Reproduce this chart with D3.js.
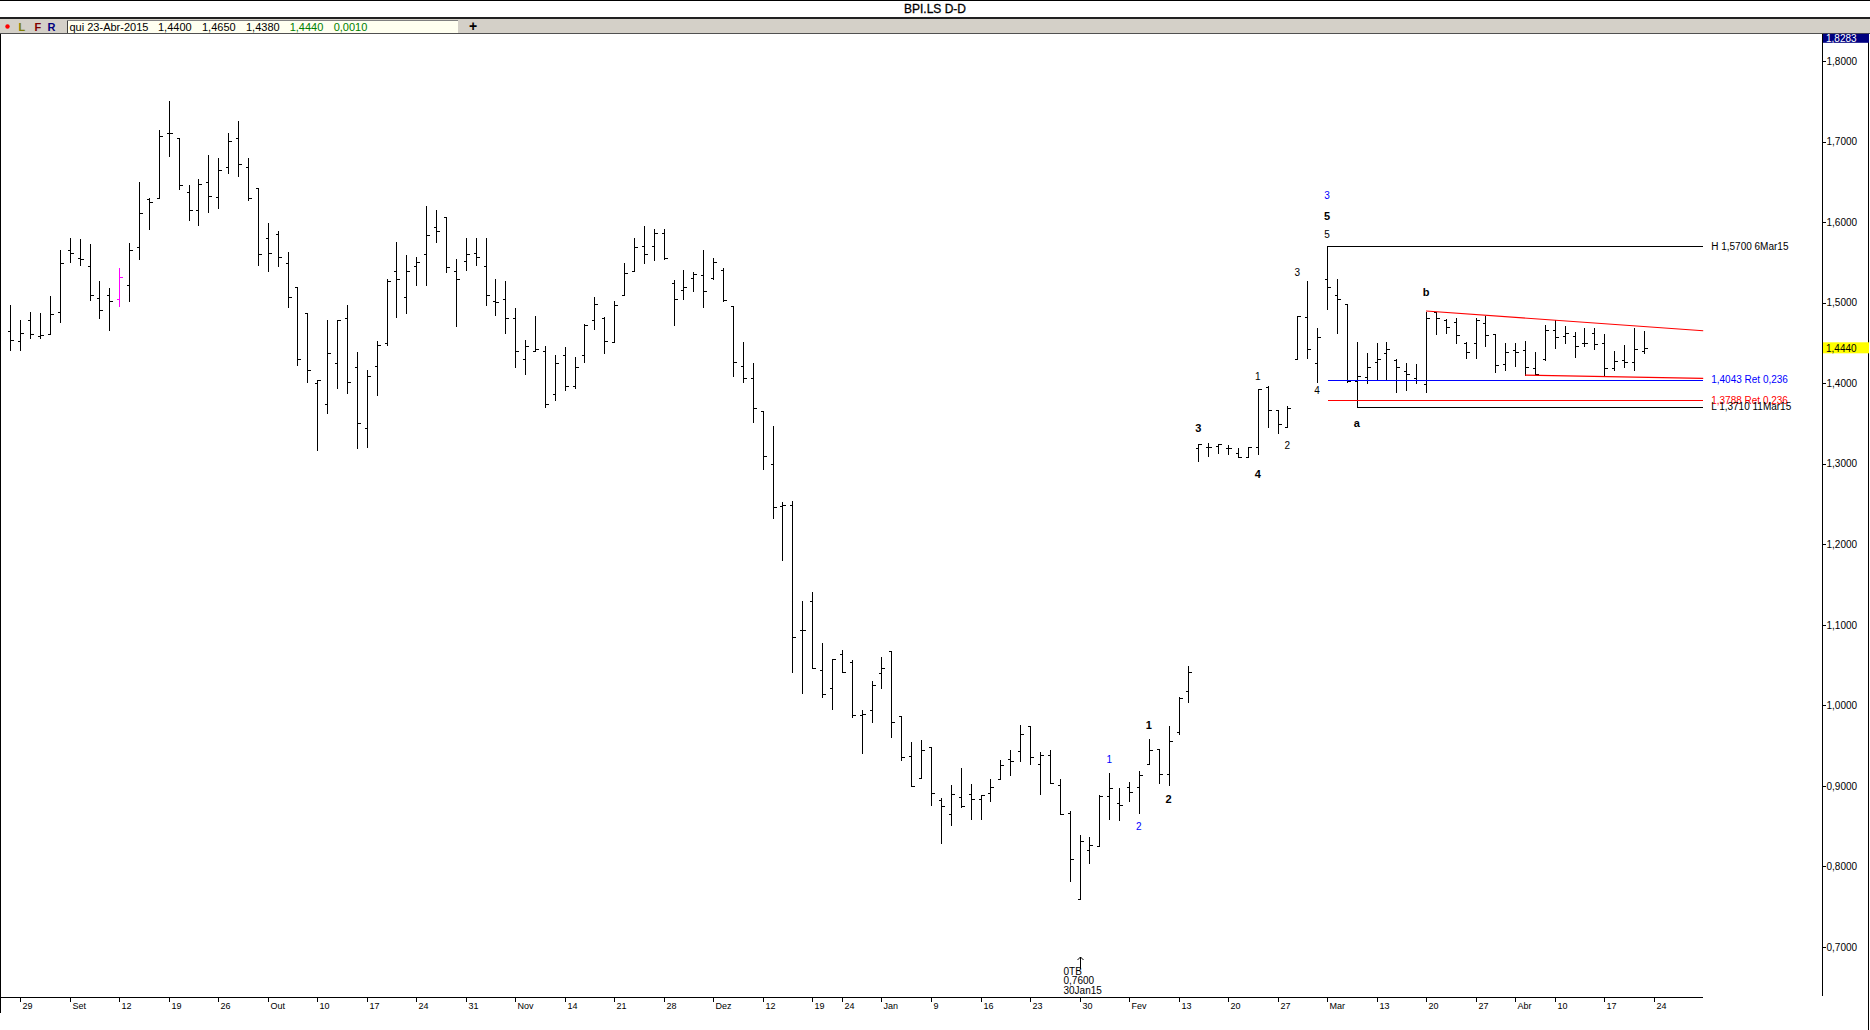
<!DOCTYPE html>
<html><head><meta charset="utf-8">
<script src="https://cdn.jsdelivr.net/npm/d3@7"></script>
<style>
body{margin:0;background:#fff;overflow:hidden;}
svg{display:block;font-family:"Liberation Sans",Arial,sans-serif;}
</style></head><body>
<svg id="c" width="1870" height="1030"></svg>
<script>
// ---------------- DATA ----------------
const title = "BPI.LS D-D";
const headerDate = "qui 23-Abr-2015";
const dates = [
"2014-08-28","2014-08-29",
"2014-09-01","2014-09-02","2014-09-03","2014-09-04","2014-09-05",
"2014-09-08","2014-09-09","2014-09-10","2014-09-11","2014-09-12",
"2014-09-15","2014-09-16","2014-09-17","2014-09-18","2014-09-19",
"2014-09-22","2014-09-23","2014-09-24","2014-09-25","2014-09-26",
"2014-09-29","2014-09-30","2014-10-01","2014-10-02","2014-10-03",
"2014-10-06","2014-10-07","2014-10-08","2014-10-09","2014-10-10",
"2014-10-13","2014-10-14","2014-10-15","2014-10-16","2014-10-17",
"2014-10-20","2014-10-21","2014-10-22","2014-10-23","2014-10-24",
"2014-10-27","2014-10-28","2014-10-29","2014-10-30","2014-10-31",
"2014-11-03","2014-11-04","2014-11-05","2014-11-06","2014-11-07",
"2014-11-10","2014-11-11","2014-11-12","2014-11-13","2014-11-14",
"2014-11-17","2014-11-18","2014-11-19","2014-11-20","2014-11-21",
"2014-11-24","2014-11-25","2014-11-26","2014-11-27","2014-11-28",
"2014-12-01","2014-12-02","2014-12-03","2014-12-04","2014-12-05",
"2014-12-08","2014-12-09","2014-12-10","2014-12-11","2014-12-12",
"2014-12-15","2014-12-16","2014-12-17","2014-12-18","2014-12-19",
"2014-12-22","2014-12-23","2014-12-24",
"2014-12-29","2014-12-30","2014-12-31","2015-01-02",
"2015-01-05","2015-01-06","2015-01-07","2015-01-08","2015-01-09",
"2015-01-12","2015-01-13","2015-01-14","2015-01-15","2015-01-16",
"2015-01-19","2015-01-20","2015-01-21","2015-01-22","2015-01-23",
"2015-01-26","2015-01-27","2015-01-28","2015-01-29","2015-01-30",
"2015-02-02","2015-02-03","2015-02-04","2015-02-05","2015-02-06",
"2015-02-09","2015-02-10","2015-02-11","2015-02-12","2015-02-13",
"2015-02-16","2015-02-17","2015-02-18","2015-02-19","2015-02-20",
"2015-02-23","2015-02-24","2015-02-25","2015-02-26","2015-02-27",
"2015-03-02","2015-03-03","2015-03-04","2015-03-05","2015-03-06",
"2015-03-09","2015-03-10","2015-03-11","2015-03-12","2015-03-13",
"2015-03-16","2015-03-17","2015-03-18","2015-03-19","2015-03-20",
"2015-03-23","2015-03-24","2015-03-25","2015-03-26","2015-03-27",
"2015-03-30","2015-03-31","2015-04-01","2015-04-02",
"2015-04-07","2015-04-08","2015-04-09","2015-04-10",
"2015-04-13","2015-04-14","2015-04-15","2015-04-16","2015-04-17",
"2015-04-20","2015-04-21","2015-04-22","2015-04-23"
];
const futureDates = ["2015-04-24","2015-04-27","2015-04-28","2015-04-29","2015-04-30","2015-05-04"];

const open = [
1.465,1.452,1.479,1.459,1.461,1.488,1.566,1.555,1.545,1.506,
1.509,1.505,1.522,1.569,1.629,1.630,1.711,1.705,1.637,1.615,
1.650,1.631,1.668,1.705,1.668,1.642,1.580,1.585,1.549,1.519,
1.487,1.400,1.374,1.425,1.481,1.420,1.344,1.422,1.450,1.539,
1.507,1.545,1.560,1.594,1.606,1.539,1.552,1.562,1.546,1.502,
1.504,1.481,1.430,1.440,1.440,1.387,1.435,1.397,1.435,1.478,
1.481,1.451,1.510,1.539,1.571,1.571,1.586,1.524,1.516,1.531,
1.534,1.531,1.540,1.496,1.421,1.407,1.366,1.300,1.247,1.249,
1.093,1.130,1.044,1.022,1.064,1.054,0.988,0.994,1.040,1.068,
0.987,0.937,0.910,0.948,0.883,0.865,0.886,0.890,0.884,0.891,
0.908,0.933,0.943,0.974,0.927,0.939,0.901,0.867,0.760,0.821,
0.826,0.887,0.879,0.899,0.899,0.927,0.946,0.915,0.967,1.018,
1.319,1.321,1.322,1.319,1.314,1.308,1.321,1.395,1.367,1.346,
1.430,1.482,1.425,1.529,1.509,1.499,1.403,1.408,1.426,1.437,
1.429,1.415,1.406,1.399,1.488,1.479,1.476,1.450,1.450,1.475,
1.461,1.424,1.441,1.441,1.419,1.430,1.466,1.459,1.459,1.450,
1.463,1.450,1.419,1.429,1.426,1.440
];
const high = [
1.497,1.478,1.489,1.487,1.508,1.565,1.580,1.579,1.573,1.527,
1.518,1.543,1.574,1.650,1.630,1.715,1.750,1.705,1.646,1.653,
1.683,1.680,1.711,1.726,1.680,1.642,1.599,1.589,1.563,1.519,
1.487,1.404,1.478,1.478,1.497,1.439,1.416,1.452,1.529,1.575,
1.559,1.557,1.620,1.615,1.606,1.554,1.580,1.580,1.580,1.529,
1.527,1.494,1.454,1.484,1.446,1.435,1.445,1.432,1.474,1.507,
1.482,1.502,1.549,1.580,1.595,1.592,1.592,1.528,1.540,1.538,
1.565,1.556,1.543,1.496,1.451,1.425,1.366,1.347,1.252,1.254,
1.130,1.141,1.078,1.057,1.069,1.056,0.994,1.030,1.060,1.068,
0.987,0.954,0.957,0.948,0.885,0.901,0.922,0.903,0.889,0.909,
0.932,0.945,0.976,0.975,0.942,0.944,0.909,0.869,0.839,0.836,
0.889,0.916,0.897,0.905,0.919,0.958,0.946,0.974,1.011,1.049,
1.325,1.326,1.325,1.323,1.319,1.321,1.393,1.396,1.367,1.372,
1.483,1.527,1.468,1.570,1.529,1.499,1.451,1.438,1.450,1.451,
1.430,1.425,1.424,1.489,1.489,1.480,1.481,1.451,1.481,1.484,
1.461,1.450,1.450,1.452,1.439,1.472,1.479,1.471,1.464,1.468,
1.469,1.461,1.440,1.448,1.468,1.465
];
const low = [
1.441,1.441,1.456,1.456,1.462,1.476,1.551,1.547,1.503,1.481,
1.466,1.496,1.502,1.554,1.592,1.630,1.682,1.641,1.603,1.596,
1.613,1.617,1.661,1.657,1.628,1.547,1.539,1.546,1.495,1.423,
1.401,1.317,1.363,1.394,1.388,1.319,1.321,1.386,1.447,1.482,
1.487,1.522,1.522,1.576,1.538,1.471,1.541,1.547,1.497,1.485,
1.462,1.420,1.411,1.440,1.370,1.379,1.392,1.394,1.427,1.467,
1.438,1.451,1.510,1.539,1.549,1.553,1.554,1.472,1.504,1.514,
1.495,1.529,1.502,1.409,1.402,1.352,1.294,1.233,1.181,1.042,
1.016,1.046,1.010,0.996,1.041,0.986,0.941,0.979,1.021,0.961,
0.932,0.900,0.910,0.876,0.829,0.851,0.874,0.859,0.859,0.881,
0.908,0.913,0.931,0.927,0.890,0.904,0.865,0.782,0.760,0.804,
0.826,0.859,0.858,0.881,0.867,0.927,0.904,0.901,0.964,1.004,
1.303,1.310,1.314,1.312,1.308,1.308,1.312,1.346,1.338,1.346,
1.430,1.431,1.402,1.492,1.462,1.401,1.371,1.400,1.404,1.404,
1.389,1.391,1.400,1.389,1.461,1.462,1.450,1.431,1.431,1.446,
1.414,1.416,1.421,1.410,1.411,1.429,1.444,1.450,1.433,1.446,
1.443,1.409,1.416,1.420,1.416,1.438
];
const close = [
1.454,1.463,1.461,1.460,1.486,1.549,1.562,1.554,1.510,1.491,
1.502,1.532,1.566,1.611,1.625,1.707,1.711,1.646,1.615,1.647,
1.633,1.665,1.701,1.672,1.630,1.560,1.562,1.557,1.507,1.430,
1.417,1.404,1.437,1.478,1.401,1.351,1.409,1.447,1.527,1.529,
1.539,1.551,1.584,1.589,1.544,1.529,1.560,1.557,1.510,1.501,
1.481,1.440,1.446,1.442,1.374,1.425,1.396,1.420,1.472,1.499,
1.452,1.497,1.537,1.569,1.560,1.587,1.556,1.505,1.520,1.536,
1.514,1.550,1.503,1.427,1.407,1.369,1.310,1.246,1.249,1.085,
1.093,1.046,1.014,1.057,1.041,0.988,0.989,1.025,1.046,0.979,
0.936,0.900,0.945,0.891,0.875,0.890,0.875,0.884,0.889,0.899,
0.926,0.931,0.964,0.936,0.939,0.904,0.865,0.809,0.832,0.827,
0.888,0.898,0.876,0.892,0.914,0.945,0.915,0.956,1.009,1.041,
1.324,1.321,1.325,1.319,1.308,1.321,1.393,1.367,1.349,1.369,
1.483,1.443,1.458,1.520,1.505,1.403,1.409,1.420,1.430,1.442,
1.420,1.412,1.404,1.481,1.481,1.470,1.460,1.439,1.478,1.460,
1.423,1.439,1.439,1.420,1.412,1.466,1.458,1.462,1.446,1.450,
1.449,1.419,1.428,1.426,1.443,1.444
];
const highlightDates = ["2014-09-12"];   // bar drawn in magenta

const yTicks = [0.7,0.8,0.9,1.0,1.1,1.2,1.3,1.4,1.5,1.6,1.7,1.8];
const yTop = 1.8283;
const tickDates = ["2014-08-29","2014-09-05","2014-09-12","2014-09-19","2014-09-26","2014-10-03","2014-10-10","2014-10-17","2014-10-24","2014-10-31","2014-11-07","2014-11-14","2014-11-21","2014-11-28","2014-12-05","2014-12-12","2014-12-19","2014-12-24","2015-01-02","2015-01-09","2015-01-16","2015-01-23","2015-01-30","2015-02-06","2015-02-13","2015-02-20","2015-02-27","2015-03-06","2015-03-13","2015-03-20","2015-03-27","2015-04-02","2015-04-10","2015-04-17","2015-04-24"];
const tickLabels = ["29","Set","12","19","26","Out","10","17","24","31","Nov","14","21","28","Dez","12","19","24","Jan","9","16","23","30","Fev","13","20","27","Mar","13","20","27","Abr","10","17","24"];

// Elliott-wave labels: [text, date, price]
const waveMinute = [["1","2015-02-10",0.975],["2","2015-02-12",0.884],["3","2015-02-17",1.344],["4","2015-02-25",1.287],["5","2015-03-06",1.607],["a","2015-03-11",1.350],["b","2015-03-20",1.513]];
const waveMinuette = [["1","2015-02-25",1.408],["2","2015-03-02",1.323],["3","2015-03-03",1.537],["4","2015-03-05",1.391],["5","2015-03-06",1.585]];
const waveMinor = [["1","2015-02-04",0.933],["2","2015-02-09",0.850],["3","2015-03-06",1.633]];

// horizontal levels: [price, fromDate, label]
const levelHigh = [1.5700, "2015-03-06", "H 1,5700 6Mar15"];
const levelLow = [1.3710, "2015-03-11", "L 1,3710 11Mar15"];
const retBlue = [1.4043, "2015-03-06", "1,4043 Ret 0,236"];
const retRed = [1.3788, "2015-03-06", "1,3788 Ret 0,236"];
// trendlines (triangle): [date, price] pairs
const trendUpper = [["2015-03-20",1.4897],["2015-05-04",1.4652]];
const trendLower = [["2015-04-07",1.4102],["2015-05-04",1.4061]];
const lowNote = ["0TB","0,7600","30Jan15"];
const lowNoteDate = "2015-01-30";

// ---------------- CHART ----------------
const W = 1870, H = 1030;
const svg = d3.select("#c");
const allDates = dates.concat(futureDates);
const idx = d => allDates.indexOf(d);
const x = d3.scaleLinear().domain([0, dates.length - 1]).range([10.3, 10.3 + (dates.length - 1) * 9.9]);
const y = d3.scaleLinear().domain([0.7, 1.8]).range([947.0, 61.1]);
const fmt = v => v.toFixed(4).replace(".", ",");
const px = v => Math.round(v) + 0.5;
const xEnd = x(allDates.length - 1);

svg.append("rect").attr("width", W).attr("height", H).attr("fill", "#fff");

// header
svg.append("rect").attr("x",0).attr("y",0).attr("width",W).attr("height",1).attr("fill","#000");
svg.append("text").attr("x", 935).attr("y", 13).attr("text-anchor","middle")
  .attr("font-size", 12).attr("fill","#000").attr("stroke","#000").attr("stroke-width",0.3).text(title);
svg.append("rect").attr("x",0).attr("y",17).attr("width",W).attr("height",2).attr("fill","#202020");
svg.append("rect").attr("x",0).attr("y",19).attr("width",W).attr("height",14).attr("fill","#d4d0c8");
svg.append("rect").attr("x",0).attr("y",33).attr("width",W).attr("height",1).attr("fill","#505050");
svg.append("circle").attr("cx",7.5).attr("cy",26.5).attr("r",2.2).attr("fill","#ff0000");
[["L",18.5,"#808000"],["F",34.5,"#800000"],["R",47.5,"#000080"]].forEach(([t,xx,c]) =>
  svg.append("text").attr("x",xx).attr("y",31).attr("font-size",11).attr("font-weight","bold").attr("fill",c).text(t));
svg.append("rect").attr("x",67).attr("y",20).attr("width",391).attr("height",13).attr("fill","#fffff0");
svg.append("rect").attr("x",67).attr("y",20).attr("width",1).attr("height",13).attr("fill","#404040");
svg.append("rect").attr("x",67).attr("y",20).attr("width",391).attr("height",1).attr("fill","#808080");
const last = dates.length - 1;
const hdr = [[headerDate,69.5,"#000"],[fmt(open[last]),158,"#000"],[fmt(high[last]),202,"#000"],
  [fmt(low[last]),246,"#000"],[fmt(close[last]),289.7,"#008000"],[fmt(close[last]-close[last-1]),333.7,"#008000"]];
hdr.forEach(([t,xx,c]) => svg.append("text").attr("x",xx).attr("y",30.5).attr("font-size",11).attr("fill",c).text(t));
svg.append("text").attr("x",473).attr("y",31).attr("text-anchor","middle").attr("font-size",14).attr("font-weight","bold").text("+");

// borders
svg.append("line").attr("x1",0.5).attr("x2",0.5).attr("y1",34).attr("y2",1013).attr("stroke","#000");
svg.append("line").attr("x1",1868.5).attr("x2",1868.5).attr("y1",34).attr("y2",H).attr("stroke","#000");

// Y axis
const yAxisX = 1822;
const yAx = svg.append("g").attr("transform", `translate(${yAxisX + 0.5},0)`)
  .call(d3.axisRight(y).tickValues(yTicks).tickFormat(fmt).tickSize(3).tickPadding(1));
yAx.select(".domain").remove();
yAx.selectAll("line").attr("stroke","#000").attr("shape-rendering","crispEdges");
yAx.selectAll("text").attr("font-size",10).attr("font-family","Liberation Sans, Arial, sans-serif").attr("fill","#000");
svg.append("line").attr("x1",yAxisX+0.5).attr("x2",yAxisX+0.5).attr("y1",34).attr("y2",996).attr("stroke","#000");
// top value box
svg.append("rect").attr("x",yAxisX+1).attr("y",y(yTop)-4.5).attr("width",46).attr("height",9).attr("fill","#000080");
svg.append("text").attr("x",yAxisX+4).attr("y",y(yTop)+3.5).attr("font-size",10).attr("fill","#fff").text(fmt(yTop));
// last price box
svg.append("rect").attr("x",yAxisX+1).attr("y",y(close[last])-5.5).attr("width",46).attr("height",11).attr("fill","#ffff00");
svg.append("text").attr("x",yAxisX+4).attr("y",y(close[last])+3.7).attr("font-size",10).attr("fill","#000").text(fmt(close[last]));

// X axis
const axisY = 997;
svg.append("line").attr("x1",0).attr("x2",Math.round(xEnd)).attr("y1",axisY+0.5).attr("y2",axisY+0.5).attr("stroke","#000");
const xAx = svg.append("g").attr("transform",`translate(0,${axisY+0.5})`)
  .call(d3.axisBottom(x).tickValues(tickDates.map(idx)).tickFormat((d,i) => tickLabels[i]).tickSize(4));
xAx.select(".domain").remove();
xAx.selectAll(".tick").attr("transform", d => `translate(${px(x(d))},0)`);
xAx.selectAll("line").attr("stroke","#000").attr("shape-rendering","crispEdges");
xAx.selectAll("text").attr("font-size",9).attr("font-family","Liberation Sans, Arial, sans-serif")
  .attr("text-anchor","start").attr("x",2).attr("y",5).attr("dy","0.71em").attr("fill","#000");

// OHLC bars
const bars = svg.append("g").attr("shape-rendering","crispEdges").attr("fill","none").attr("stroke-width",1);
dates.forEach((d, i) => {
  const xx = px(x(i));
  const p = `M${xx},${Math.round(y(high[i]))}V${Math.round(y(low[i]))+1}` +
            `M${xx-3},${px(y(open[i]))}H${xx}` +
            `M${xx},${px(y(close[i]))}H${xx+3}`;
  bars.append("path").attr("d", p).attr("stroke", highlightDates.includes(d) ? "#ff00ff" : "#000");
});

// horizontal levels
function level(arr, color) {
  const [v, d, lab] = arr;
  svg.append("line").attr("x1", px(x(idx(d)))).attr("x2", xEnd).attr("y1", px(y(v))).attr("y2", px(y(v)))
    .attr("stroke", color).attr("shape-rendering","crispEdges");
  svg.append("text").attr("x", xEnd + 8).attr("y", y(v) + 3.5).attr("font-size",10).attr("fill",color).text(lab);
}
level(levelHigh, "#000");
level(retBlue, "#0000ff");
level(retRed, "#ff0000");
level(levelLow, "#000");

// trendlines
const tl = d3.line().x(p => x(idx(p[0]))).y(p => y(p[1]));
[trendUpper, trendLower].forEach(t => svg.append("path").attr("d", tl(t)).attr("fill","none").attr("stroke","#ff0000").attr("stroke-width",1.2));

// wave labels
function waves(arr, color, weight) {
  arr.forEach(([t, d, v]) => svg.append("text").attr("x", x(idx(d))).attr("y", y(v)).attr("dy","0.35em")
    .attr("text-anchor","middle").attr("font-size", weight === "bold" ? 11 : 10).attr("font-weight", weight)
    .attr("fill", color).text(t));
}
waves(waveMinute, "#000", "bold");
waves(waveMinuette, "#000", "normal");
waves(waveMinor, "#0000ff", "normal");

// low annotation
const ax = px(x(idx(lowNoteDate)));
svg.append("path").attr("d", `M${ax},957V969M${ax-3},960L${ax},957L${ax+3},960`).attr("fill","none").attr("stroke","#000");
lowNote.forEach((t, i) => svg.append("text").attr("x", ax - 17).attr("y", 974.5 + i * 9.7).attr("font-size",10).attr("fill","#000").text(t));
</script>
</body></html>
